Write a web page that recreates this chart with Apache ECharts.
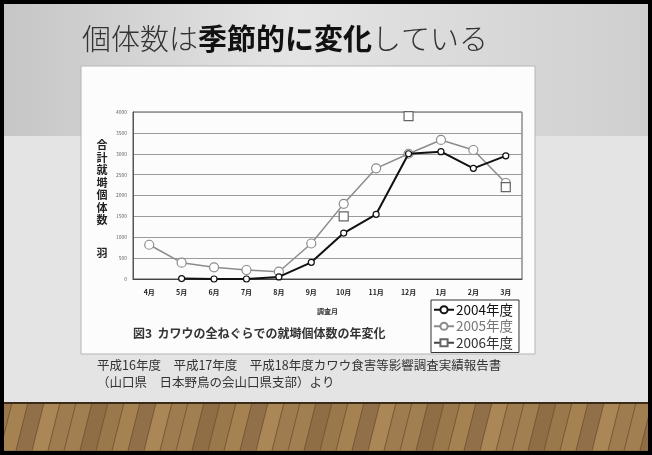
<!DOCTYPE html>
<html><head><meta charset="utf-8">
<script src="https://cdn.jsdelivr.net/npm/echarts@6/dist/echarts.min.js"></script>
<style>html,body{margin:0;padding:0;background:#000;}#c{width:652px;height:455px;}</style>
</head><body><div id="c"></div>
<script>
const months = ['4月','5月','6月','7月','8月','9月','10月','11月','12月','1月','2月','3月'];
const y2004 = [null, 10, 0, 0, 50, 400, 1100, 1550, 3000, 3050, 2650, 2950];
const y2005 = [820, 390, 280, 215, 175, 850, 1800, 2650, 3000, 3330, 3090, 2300];
const y2006 = [null, null, null, null, null, null, 1500, null, 3900, null, null, 2200];
const seriesNames = ['2004年度','2005年度','2006年度'];
const yTitleChars = ['合','計','就','塒','個','体','数'];

const FF = '"Noto Sans CJK JP","Noto Sans",sans-serif';

// decorative wood planks
const wood = [];
const plankColors = ['#9a784c','#a68253','#917049','#ab8757','#9f7c4f','#a27f51','#8f6e46'];
for (let i = 0; i < 44; i++) {
  const x0 = 4 + i * 16 - 20;
  wood.push({
    type: 'polygon', z: -90, silent: true,
    shape: { points: [[x0, 451], [x0 + 16, 451], [x0 + 16 + 12, 403], [x0 + 12, 403]] },
    style: { fill: plankColors[i % plankColors.length], stroke: '#6b4e2c', lineWidth: 0.6 }
  });
}

const chart = echarts.init(document.getElementById('c'), null, {renderer: 'canvas'});
chart.setOption({
  animation: false,
  backgroundColor: '#000',
  graphic: [
    { type: 'rect', z: -100, silent: true, shape: {x: 4, y: 4, width: 644, height: 132},
      style: { fill: new echarts.graphic.LinearGradient(0, 0, 1, 0, [
        {offset: 0, color: '#c6c6c6'}, {offset: 0.45, color: '#e4e4e4'}, {offset: 1, color: '#cfcfcf'}]) } },
    { type: 'rect', z: -100, silent: true, shape: {x: 4, y: 136, width: 644, height: 267},
      style: { fill: '#e4e4e4' } },
    { type: 'rect', z: -100, silent: true, shape: {x: 4, y: 403, width: 644, height: 48},
      style: { fill: '#9a784c' } },
    ...wood,
    { type: 'rect', z: -80, silent: true, shape: {x: 0, y: 402, width: 652, height: 2},
      style: { fill: '#3a2a18' } },
    { type: 'rect', z: -80, silent: true, shape: {x: 0, y: 451, width: 652, height: 4}, style: {fill: '#000'} },
    { type: 'rect', z: -80, silent: true, shape: {x: 0, y: 400, width: 4, height: 55}, style: {fill: '#000'} },
    { type: 'rect', z: -80, silent: true, shape: {x: 648, y: 400, width: 4, height: 55}, style: {fill: '#000'} },
    // chart image box
    { type: 'rect', z: -50, silent: true, shape: {x: 81, y: 66, width: 454, height: 288},
      style: { fill: '#fcfcfc', stroke: '#b5b5b5', lineWidth: 1 } },
    // slide title
    { type: 'text', z: 50, x: 82, y: 39, style: {
      text: '{l|個体数は}{b|季節的に変化}{l|している}',
      verticalAlign: 'middle', align: 'left',
      rich: {
        l: { fontSize: 29, fontWeight: 300, fontFamily: FF, fill: '#333' },
        b: { fontSize: 29, fontWeight: 'bold', fontFamily: FF, fill: '#111' }
      } } },
    // y-axis title (vertical)
    { type: 'text', z: 50, x: 102, y: 139, style: {
      text: yTitleChars.join('\n'), align: 'center', verticalAlign: 'top',
      fontSize: 11, fontWeight: 'bold', lineHeight: 12.5, fontFamily: FF, fill: '#222' } },
    { type: 'text', z: 50, x: 102, y: 253, style: {
      text: '羽', align: 'center', verticalAlign: 'middle',
      fontSize: 11, fontWeight: 'bold', fontFamily: FF, fill: '#222' } },
    // figure caption
    { type: 'text', z: 50, x: 133, y: 333, style: {
      text: '図3  カワウの全ねぐらでの就塒個体数の年変化', align: 'left', verticalAlign: 'middle',
      fontSize: 12, fontWeight: 'bold', fontFamily: FF, fill: '#333' } },
    // source text
    { type: 'text', z: 50, x: 97, y: 365, style: {
      text: '平成16年度　平成17年度　平成18年度カワウ食害等影響調査実績報告書', align: 'left', verticalAlign: 'middle',
      fontSize: 12.5, fontFamily: FF, fill: '#333' } },
    { type: 'text', z: 50, x: 97, y: 382, style: {
      text: '（山口県　日本野鳥の会山口県支部）より', align: 'left', verticalAlign: 'middle',
      fontSize: 12.5, fontFamily: FF, fill: '#333' } }
  ],
  grid: { left: 133, top: 112, width: 389, height: 167, show: true, borderColor: '#555', borderWidth: 1, backgroundColor: 'transparent' },
  legend: {
    orient: 'vertical', left: 431, top: 300, itemWidth: 20, itemHeight: 9, itemGap: 3,
    borderColor: '#333', borderWidth: 1, padding: [3, 6, 3, 2],
    backgroundColor: '#fff',
    data: [
      { name: seriesNames[0], textStyle: { color: '#111' } },
      { name: seriesNames[1], textStyle: { color: '#777' } },
      { name: seriesNames[2], textStyle: { color: '#333' } }
    ],
    textStyle: { fontSize: 13.5, fontFamily: FF, padding: [0, 0, 0, -3] }
  },
  xAxis: {
    type: 'category', data: months, boundaryGap: true,
    axisLine: { show: true, lineStyle: { color: '#444', width: 1 } },
    axisTick: { show: false },
    axisLabel: { fontSize: 7, fontWeight: 'bold', color: '#222', margin: 10, fontFamily: FF },
    name: '調査月', nameLocation: 'middle', nameGap: 29,
    nameTextStyle: { fontSize: 7, fontWeight: 'bold', color: '#333', fontFamily: FF },
    splitLine: { show: false }
  },
  yAxis: {
    type: 'value', min: 0, max: 4000, interval: 500,
    axisLine: { show: true, lineStyle: { color: '#555' } },
    axisTick: { show: false },
    axisLabel: { fontSize: 5, color: '#666', margin: 6, fontFamily: FF, formatter: v => String(v) },
    splitLine: { lineStyle: { color: '#9a9a9a', width: 1 } }
  },
  series: [
    { name: seriesNames[0], type: 'line', data: y2004, connectNulls: false,
      symbol: 'circle', symbolSize: 6, z: 4,
      lineStyle: { color: '#111', width: 2 },
      itemStyle: { color: '#fff', borderColor: '#111', borderWidth: 1.2 } },
    { name: seriesNames[1], type: 'line', data: y2005, connectNulls: false,
      symbol: 'circle', symbolSize: 9, z: 3,
      lineStyle: { color: '#8c8c8c', width: 1.5 },
      itemStyle: { color: '#fff', borderColor: '#8c8c8c', borderWidth: 1.2 } },
    { name: seriesNames[2], type: 'line', data: y2006, connectNulls: false,
      symbol: 'rect', symbolSize: 9, z: 5,
      lineStyle: { color: '#444', width: 1.5 },
      itemStyle: { color: '#fff', borderColor: '#666', borderWidth: 1.2 } }
  ]
});
</script></body></html>
